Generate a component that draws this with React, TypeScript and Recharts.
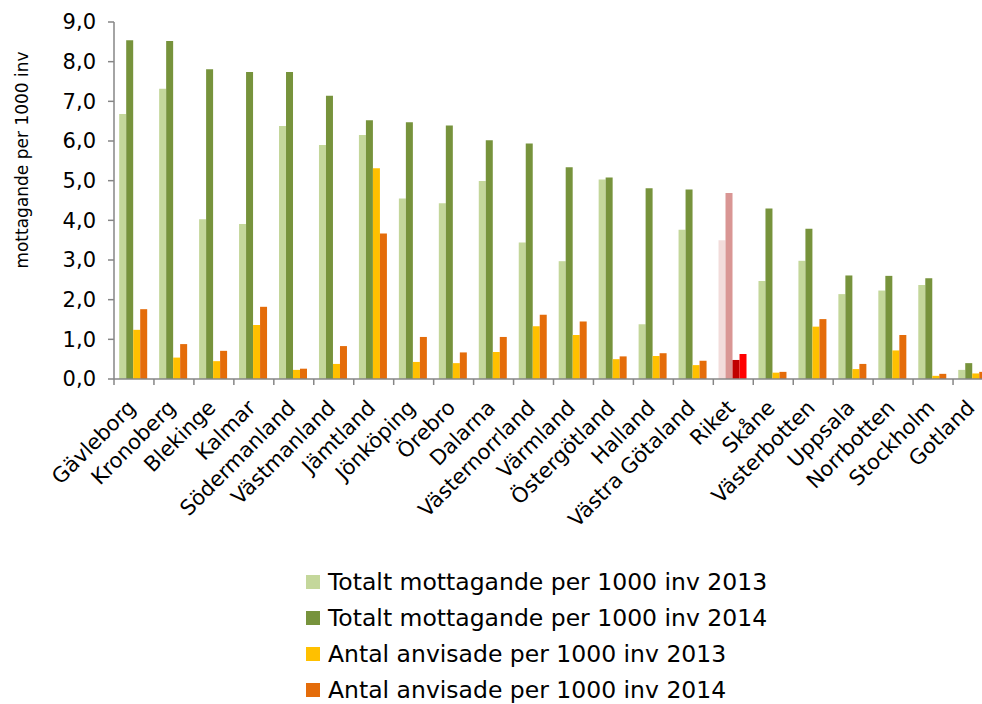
import React from 'react';
import { BarChart, Bar, XAxis, YAxis, Legend, Cell, Label } from 'recharts';

const regions = [
  'Gävleborg', 'Kronoberg', 'Blekinge', 'Kalmar', 'Södermanland', 'Västmanland',
  'Jämtland', 'Jönköping', 'Örebro', 'Dalarna', 'Västernorrland', 'Värmland',
  'Östergötland', 'Halland', 'Västra Götaland', 'Riket', 'Skåne', 'Västerbotten',
  'Uppsala', 'Norrbotten', 'Stockholm', 'Gotland'
];

const totalt2013 = [6.68, 7.32, 4.03, 3.91, 6.38, 5.9, 6.15, 4.55, 4.43, 4.99, 3.44, 2.97, 5.03, 1.38, 3.76, 3.5, 2.47, 2.98, 2.14, 2.23, 2.37, 0.23];
const totalt2014 = [8.54, 8.52, 7.81, 7.74, 7.74, 7.14, 6.52, 6.47, 6.39, 6.02, 5.94, 5.34, 5.08, 4.81, 4.78, 4.69, 4.3, 3.79, 2.61, 2.6, 2.54, 0.4];
const anvisade2013 = [1.24, 0.54, 0.45, 1.36, 0.23, 0.38, 5.31, 0.43, 0.4, 0.68, 1.33, 1.11, 0.5, 0.58, 0.35, 0.48, 0.16, 1.32, 0.25, 0.72, 0.08, 0.14];
const anvisade2014 = [1.76, 0.88, 0.71, 1.82, 0.26, 0.83, 3.67, 1.06, 0.67, 1.06, 1.62, 1.45, 0.57, 0.65, 0.46, 0.63, 0.18, 1.51, 0.38, 1.11, 0.13, 0.18];

const yTicks = [0, 1, 2, 3, 4, 5, 6, 7, 8, 9];

const series = [
  { key: 'totalt2013', name: 'Totalt mottagande per 1000 inv 2013', color: '#C4D79B', riket: '#F2DCDB' },
  { key: 'totalt2014', name: 'Totalt mottagande per 1000 inv 2014', color: '#77933C', riket: '#D99694' },
  { key: 'anvisade2013', name: 'Antal anvisade per 1000 inv 2013', color: '#FFC000', riket: '#C00000' },
  { key: 'anvisade2014', name: 'Antal anvisade per 1000 inv 2014', color: '#E46C0A', riket: '#FF0000' }
];

const data = regions.map((name, i) => ({
  name,
  totalt2013: totalt2013[i],
  totalt2014: totalt2014[i],
  anvisade2013: anvisade2013[i],
  anvisade2014: anvisade2014[i]
}));

const FONT = '"DejaVu Sans", "Liberation Sans", Arial, sans-serif';
const AXIS_COLOR = '#868686';

const CHART_W = 1000;
const CHART_H = 704;
const MARGIN = { top: 22, right: 7, left: 0, bottom: 0 };
const Y_AXIS_W = 114;
const BAND = (CHART_W - MARGIN.left - MARGIN.right - Y_AXIS_W) / regions.length;

const CategoryTick = (props: any) => {
  const { x, y, payload } = props;
  const tx = x + 3;
  const ty = y + 30;
  return (
    <g>
      <line x1={x - BAND / 2} y1={y} x2={x - BAND / 2} y2={y + 6} stroke={AXIS_COLOR} strokeWidth={1.5} />
      <text
        x={tx}
        y={ty}
        transform={`rotate(-45 ${tx} ${ty})`}
        textAnchor="end"
        fontSize={21}
        fontFamily={FONT}
        fill="#000"
      >
        {payload.value}
      </text>
    </g>
  );
};

const YTitle = () => (
  <text
    x={22}
    y={160}
    transform="rotate(-90 22 160)"
    textAnchor="middle"
    dominantBaseline="central"
    fontSize={17}
    fontFamily={FONT}
    fill="#000"
  >
    mottagande per 1000 inv
  </text>
);

// legend follows the series order, not alphabetical
const LegendContent = ({ payload }: any) => {
  const items = [...(payload || [])].sort(
    (a: any, b: any) =>
      series.findIndex((s) => s.name === a.value) - series.findIndex((s) => s.name === b.value)
  );
  return (
    <div style={{ fontFamily: FONT, fontSize: 23.5, color: '#000' }}>
      {items.map((entry: any) => (
        <div key={entry.value} style={{ display: 'flex', alignItems: 'center', height: 36, lineHeight: '36px', whiteSpace: 'nowrap' }}>
          <span style={{ display: 'inline-block', width: 14, height: 14, background: entry.color, marginRight: 8 }} />
          {entry.value}
        </div>
      ))}
    </div>
  );
};

export default function App() {
  return (
    <div style={{ position: 'absolute', left: 0, top: 0, width: 982, height: 704, overflow: 'hidden', background: '#fff' }}>
      <BarChart
        width={CHART_W}
        height={CHART_H}
        data={data}
        margin={MARGIN}
        barCategoryGap="13%"
        barGap={0}
      >
        <XAxis
          dataKey="name"
          interval={0}
          height={325}
          tick={<CategoryTick />}
          tickLine={false}
          tickSize={0}
          tickMargin={0}
          axisLine={{ stroke: AXIS_COLOR, strokeWidth: 1.5 }}
        />
        <YAxis
          width={Y_AXIS_W}
          domain={[0, 9]}
          ticks={yTicks}
          interval={0}
          tickFormatter={(v: number) => v.toFixed(1).replace('.', ',')}
          tick={{ fontSize: 21, fontFamily: FONT, fill: '#000' }}
          tickSize={6}
          tickMargin={12}
          tickLine={{ stroke: AXIS_COLOR, strokeWidth: 1.5 }}
          axisLine={{ stroke: AXIS_COLOR, strokeWidth: 1.5 }}
        >
          <Label content={<YTitle />} />
        </YAxis>
        <Legend
          layout="vertical"
          align="center"
          verticalAlign="middle"
          content={<LegendContent />}
          wrapperStyle={{ left: 306, top: 564, width: 'auto' }}
        />
        {series.map((s) => (
          <Bar key={s.key} dataKey={s.key} name={s.name} fill={s.color} isAnimationActive={false}>
            {data.map((d) => (
              <Cell key={d.name} fill={d.name === 'Riket' ? s.riket : s.color} />
            ))}
          </Bar>
        ))}
      </BarChart>
    </div>
  );
}
